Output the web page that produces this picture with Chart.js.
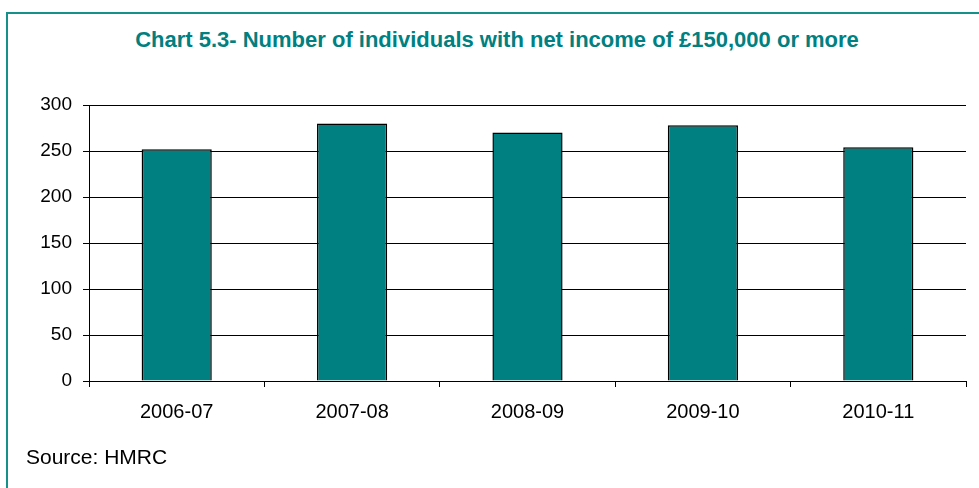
<!DOCTYPE html>
<html>
<head>
<meta charset="utf-8">
<script src="https://cdn.jsdelivr.net/npm/chart.js@4"></script>
<style>
  html, body { margin: 0; padding: 0; background: #fff; }
  #wrap { position: relative; width: 979px; height: 488px; overflow: hidden; font-family: "Liberation Sans", Arial, sans-serif; }
  #frame { position: absolute; left: 6px; top: 12px; width: 1000px; height: 500px; border-left: 2px solid #16918a; border-top: 2px solid #16918a; }
  #title { position: absolute; left: 7px; width: 980px; top: 27px; text-align: center; color: #008080; font-weight: bold; font-size: 22px; }
  #source { position: absolute; left: 26px; top: 445px; font-size: 21px; color: #000; }
  canvas { position: absolute; left: 0; top: 0; }
</style>
</head>
<body>
<div id="wrap">
  <div id="frame"></div>
  <div id="title">Chart 5.3- Number of individuals with net income of £150,000 or more</div>
  <canvas id="chart" width="979" height="488"></canvas>
  <div id="source">Source: HMRC</div>
</div>
<script>
const years = ["2006-07", "2007-08", "2008-09", "2009-10", "2010-11"];
const individuals = [252, 280, 270, 278, 254];
const yTicks = [0, 50, 100, 150, 200, 250, 300];

const ctx = document.getElementById("chart");

new Chart(ctx, {
  type: "bar",
  data: {
    labels: years,
    datasets: [
      {
        label: "Individuals",
        data: individuals,
        backgroundColor: "#008080",
        borderColor: "#000000",
        borderWidth: 1.5,
        barPercentage: 0.4,
        categoryPercentage: 1
      }
    ]
  },
  options: {
    responsive: false,
    animation: false,
    layout: {
      padding: { left: 0, right: 13, top: 105, bottom: 66 }
    },
    plugins: {
      legend: { display: false },
      title: { display: false },
      tooltip: { enabled: false }
    },
    scales: {
      x: {
        afterFit: (axis) => { axis.height = 41; },
        grid: {
          drawOnChartArea: false,
          color: "#000",
          tickLength: 6,
          offset: true
        },
        border: { color: "#000" },
        ticks: {
          color: "#000",
          padding: 13,
          font: { family: "Liberation Sans, Arial, sans-serif", size: 20 }
        }
      },
      y: {
        min: 0,
        max: 300,
        afterFit: (axis) => { axis.width = 89; },
        afterBuildTicks: (axis) => { axis.ticks = yTicks.map(v => ({ value: v })); },
        grid: {
          color: "#000",
          tickLength: 6
        },
        border: { color: "#000" },
        ticks: {
          color: "#000",
          padding: 11,
          font: { family: "Liberation Sans, Arial, sans-serif", size: 19 }
        }
      }
    }
  }
});
</script>
</body>
</html>
